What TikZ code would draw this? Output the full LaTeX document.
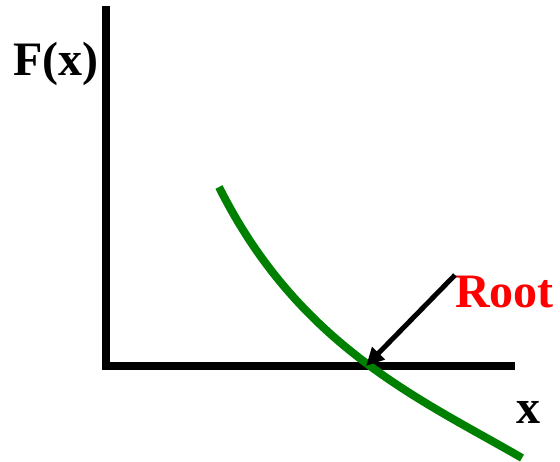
\documentclass[tikz,border=0pt]{standalone}
\usepackage{fontspec}
\setmainfont{Liberation Serif}
\usetikzlibrary{arrows.meta}
\tikzset{
  axis/.style={line width=8.5pt, black},
  curve/.style={line width=8pt, green!50!black},
  pointer/.style={line width=5pt, black, -{Triangle[length=18pt,width=17pt]}},
  lbl/.style={font=\bfseries\fontsize{48}{54}\selectfont, inner sep=0pt}
}
\begin{document}
\begin{tikzpicture}[x=1pt,y=-1pt]
\useasboundingbox (0,0) rectangle (560,461);
\coordinate (top) at (106,6);
\coordinate (corner) at (106,370.25);
\coordinate (left) at (102,366);
\coordinate (right) at (515,366);
\draw[axis] (top) -- (corner);
\draw[axis] (left) -- (right);
\coordinate (c0) at (219,187);
\coordinate (c1) at (522,458);
\draw[curve] (c0) .. controls (299,347) and (422,400) .. (c1);
\node[lbl, anchor=base west] (fx) at (13,75) {F(x)};
\node[lbl, anchor=base west, text=red] (root) at (455,307) {Root};
\node[lbl, anchor=base west] (xl) at (516,423) {x};
\coordinate (tail) at (455,275);
\coordinate (tip) at (366,366);
\draw[pointer] (tail) -- (tip);
\end{tikzpicture}
\end{document}
